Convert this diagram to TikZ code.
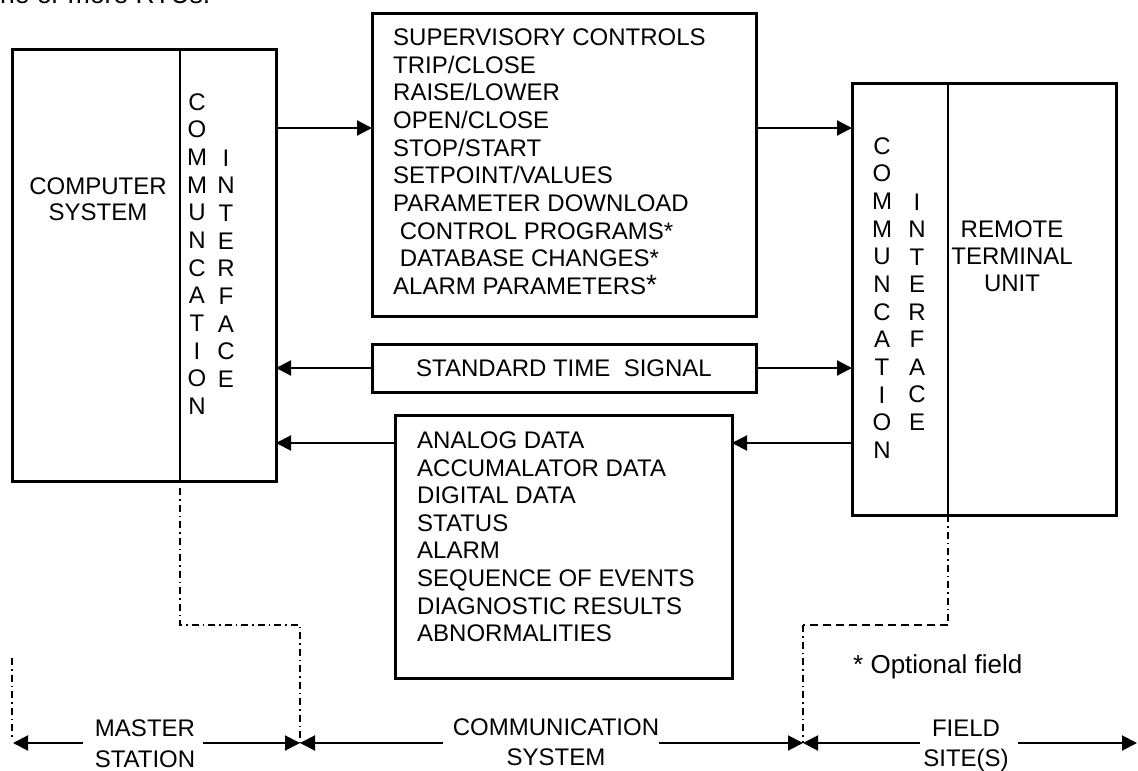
\documentclass[tikz,border=0pt]{standalone}
\usepackage{fontspec}
\setmainfont{Liberation Sans}
\usetikzlibrary{arrows.meta}
\begin{document}
\begin{tikzpicture}[x=1pt,y=-1pt,
  box/.style={draw, line width=3pt, inner sep=0pt, outer sep=0pt},
  divl/.style={line width=2pt},
  list/.style={inner sep=0pt, align=left, anchor=north west, font=\fontsize{24}{27.65}\selectfont},
  col/.style={inner sep=0pt, align=center, anchor=north, font=\fontsize{24}{27.67}\selectfont},
  lab/.style={inner sep=0pt, align=center, anchor=north},
  arr/.style={line width=2pt, -{Triangle[length=15pt,width=15pt]}},
  dashdot/.style={line width=1.5pt, dash pattern=on 7pt off 4pt on 1.5pt off 4pt},
  dashln/.style={line width=1.5pt, dash pattern=on 8pt off 5pt}
]
\useasboundingbox (0,0) rectangle (1138,771);
\fill[white] (0,0) rectangle (1138,771);

% cut-off text at the top
\node[anchor=base west, inner sep=0pt, font=\fontsize{26.5}{30}\selectfont] (frag) at (0,4) {ne or more RTUs.};

% boxes
\node[box, minimum width=264pt, minimum height=432pt] (cs) at (144,265) {};
\node[box, minimum width=384pt, minimum height=303pt] (sup) at (564,164.5) {};
\node[box, minimum width=384pt, minimum height=48pt] (std) at (564,368) {};
\node[box, minimum width=337pt, minimum height=263pt] (ana) at (563.5,546.5) {};
\node[box, minimum width=264pt, minimum height=432pt] (rtu) at (984,299) {};

% dividers
\coordinate (dl) at (180,0);
\coordinate (dr) at (948,0);
\draw[divl] (dl |- cs.north) -- (dl |- cs.south);
\draw[divl] (dr |- rtu.north) -- (dr |- rtu.south);

% texts in left box
\node[inner sep=0pt, align=center, font=\fontsize{24}{25.6}\selectfont] (cst) at (98,199.5) {COMPUTER\\SYSTEM};
\node[col] (lc1) at (197,93.3) {C\\O\\M\\M\\U\\N\\C\\A\\T\\I\\O\\N};
\node[col] (lc2) at (226,149.4) {I\\N\\T\\E\\R\\F\\A\\C\\E};

% texts in right box
\node[col, font=\fontsize{24}{27.64}\selectfont] (rc1) at (882,137.3) {C\\O\\M\\M\\U\\N\\C\\A\\T\\I\\O\\N};
\node[col, font=\fontsize{24}{27.5}\selectfont] (rc2) at (917,193.4) {I\\N\\T\\E\\R\\F\\A\\C\\E};
\node[inner sep=0pt, align=center, font=\fontsize{24}{27}\selectfont] (rtut) at (1012,256) {REMOTE\\TERMINAL\\UNIT};

% lists
\node[list] (supt) at (393,28.5) {SUPERVISORY CONTROLS\\TRIP/CLOSE\\RAISE/LOWER\\OPEN/CLOSE\\STOP/START\\SETPOINT/VALUES\\PARAMETER DOWNLOAD\\\hspace*{6.7pt}CONTROL PROGRAMS*\\\hspace*{6.7pt}DATABASE CHANGES*\\ALARM PARAMETERS{\fontsize{28}{28}\selectfont*}};
\node[inner sep=0pt, font=\fontsize{24}{27}\selectfont] (stdt) at (564,368) {STANDARD TIME\ \ SIGNAL};
\node[list] (anat) at (417,431.4) {ANALOG DATA\\ACCUMALATOR DATA\\DIGITAL DATA\\STATUS\\ALARM\\SEQUENCE OF EVENTS\\DIAGNOSTIC RESULTS\\ABNORMALITIES};

% connectors
\coordinate (y1) at (0,128);
\coordinate (y3) at (0,443);
\draw[arr] (cs.east |- y1) -- (sup.west |- y1);
\draw[arr] (sup.east |- y1) -- (rtu.west |- y1);
\draw[arr] (std.west) -- (cs.east |- std.west);
\draw[arr] (std.east) -- (rtu.west |- std.east);
\draw[arr] (ana.west |- y3) -- (cs.east |- y3);
\draw[arr] (rtu.west |- y3) -- (ana.east |- y3);

% note
\node[anchor=base west, inner sep=0pt, font=\fontsize{26}{30}\selectfont] (note) at (853,673) {* Optional field};

% boundary lines
\coordinate (t0) at (13,743);
\coordinate (t1) at (300,743);
\coordinate (t2) at (803,743);
\coordinate (t3) at (1137,743);
\coordinate (ls) at (180,488);
\draw[dashdot] (ls) -- (180,625) -- (300,625) -- (t1);
\draw[dashdot] (12,658) -- (12,737);
\draw[dashdot] (dr |- rtu.south) -- (948,625);
\draw[dashln] (948,625) -- (803,625);
\draw[dashdot] (803,625) -- (t2);

% bottom labels
\node[lab, font=\fontsize{24}{31}\selectfont] (ms) at (145,719.4) {MASTER\\STATION};
\node[lab, font=\fontsize{24}{30}\selectfont] (comm) at (556,718.4) {COMMUNICATION\\SYSTEM};
\node[lab, font=\fontsize{24}{30}\selectfont] (fs) at (966,719.4) {FIELD\\SITE(S)};
\coordinate (m1) at (83,743);
\coordinate (m2) at (203,743);
\coordinate (c1) at (443,743);
\coordinate (c2) at (659,743);
\coordinate (f1) at (920,743);
\coordinate (f2) at (1018,743);
\draw[arr] (m1) -- (t0);
\draw[arr] (m2) -- (t1);
\draw[arr] (c1) -- (t1);
\draw[arr] (c2) -- (t2);
\draw[arr] (f1) -- (t2);
\draw[arr] (f2) -- (t3);
\end{tikzpicture}
\end{document}
